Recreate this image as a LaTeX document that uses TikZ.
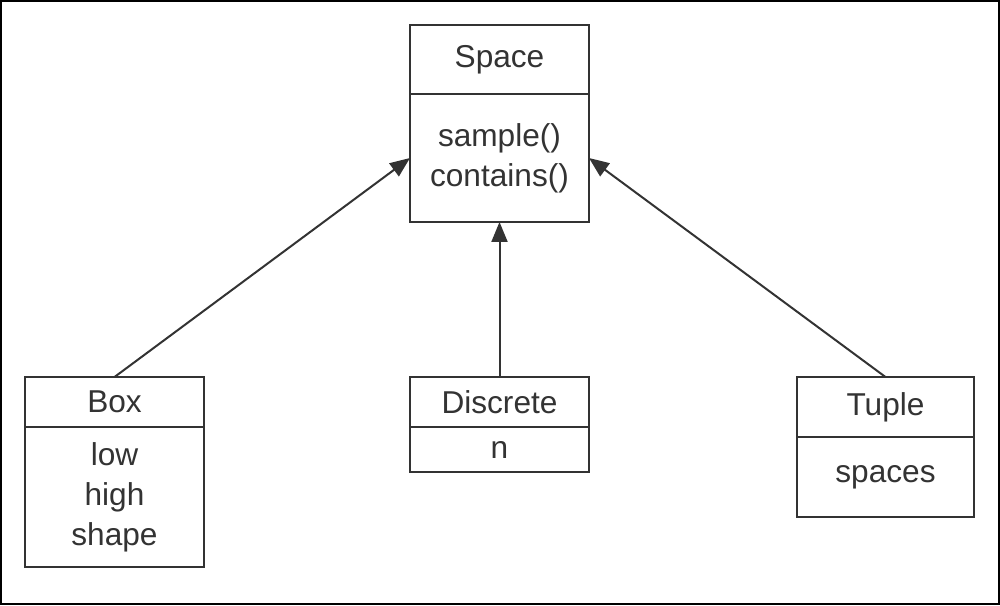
\documentclass[tikz,border=0pt]{standalone}
\usepackage{fontspec}
\setmainfont{Liberation Sans}
\usepackage{tikz}
\usetikzlibrary{
    positioning,
    arrows.meta
}
\definecolor{ink}{HTML}{333333}
\tikzset{
    >=Stealth,
    classpart/.style={
        draw=ink,
        line width=0.04cm,
        text=ink,
        minimum width=3.58cm,
        inner sep=0pt,
        outer sep=0pt,
        align=center,
        font=\fontsize{18}{22.7}\selectfont
    },
    inherit/.style={
        draw=ink,
        line width=0.04cm,
        -{Triangle[length=0.4cm, width=0.32cm]}
    }
}

\begin{document}
\begin{tikzpicture}[
    x=0.02cm,
    y=-0.02cm
]

    % Marco
    \useasboundingbox (0,0) rectangle (1000,605);
    \draw[line width=0.04cm] (1,1) rectangle (999,604);

    % Clases
    \node[classpart, minimum height=1.38cm] (spaceT) at (499.5,59.5) {Space};
    \node[classpart, minimum height=2.56cm, below=0pt of spaceT] (spaceB)
        {sample()\\contains()};

    \node[classpart, minimum height=1cm] (boxT) at (114.5,402) {Box};
    \node[classpart, minimum height=2.8cm, below=0pt of boxT] (boxB)
        {low\\high\\shape};

    \node[classpart, minimum height=1cm] (discreteT) at (499.5,402) {Discrete};
    \node[classpart, minimum height=0.9cm, below=0pt of discreteT] (discreteB)
        {n};

    \node[classpart, minimum width=3.54cm, minimum height=1.2cm] (tupleT) at (885.5,407) {Tuple};
    \node[classpart, minimum width=3.54cm, minimum height=1.6cm, below=0pt of tupleT] (tupleB)
        {spaces};

    % Herencia
    \draw[inherit] (boxT.north) -- (spaceB.west);
    \draw[inherit] (discreteT.north) -- (spaceB.south);
    \draw[inherit] (tupleT.north) -- (spaceB.east);

\end{tikzpicture}
\end{document}
